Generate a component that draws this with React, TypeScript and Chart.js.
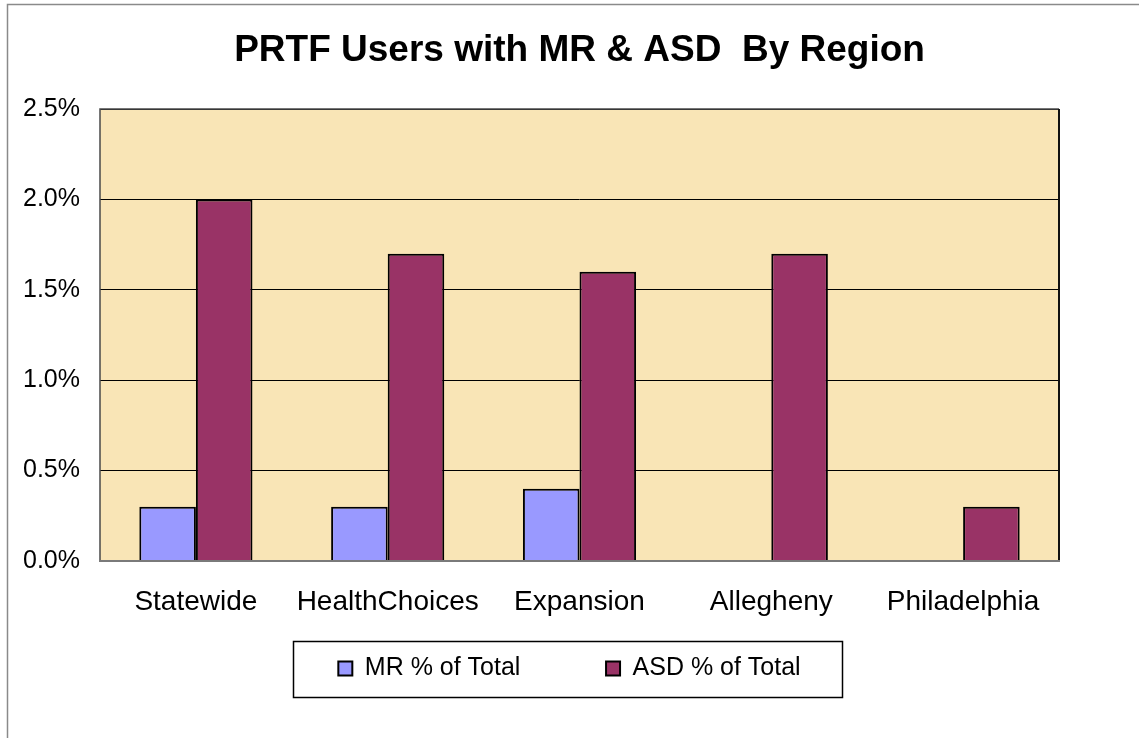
import React, { useEffect, useRef } from "react";
import { Chart, registerables } from "chart.js";

Chart.register(...registerables);

const categories = ["Statewide", "HealthChoices", "Expansion", "Allegheny", "Philadelphia"];
const mrValues = [0.3, 0.3, 0.4, 0, 0];
const asdValues = [2.0, 1.7, 1.6, 1.7, 0.3];
const seriesLabels = ["MR % of Total", "ASD % of Total"];
const titleText = "PRTF Users with MR & ASD  By Region";
const yMin = 0;
const yMax = 2.5;
const yStep = 0.5;

const FONT = "'Liberation Sans', Arial, sans-serif";

const decorPlugin = {
  id: "decor",
  beforeDraw(chart: any) {
    const { ctx, chartArea, width, height } = chart;
    ctx.save();
    ctx.strokeStyle = "#8a8a8a";
    ctx.lineWidth = 1.5;
    ctx.beginPath();
    ctx.moveTo(7.5, height + 5);
    ctx.lineTo(7.5, 4.5);
    ctx.lineTo(width + 5, 4.5);
    ctx.stroke();
    ctx.fillStyle = "#F9E5B6";
    ctx.fillRect(chartArea.left, chartArea.top, chartArea.right - chartArea.left, chartArea.bottom - chartArea.top);
    ctx.restore();
  },
  afterDatasetsDraw(chart: any) {
    const { ctx, chartArea } = chart;
    const { left, right, top, bottom } = chartArea;
    ctx.save();
    ctx.lineWidth = 1.5;
    ctx.strokeStyle = "#4a4a4a";
    ctx.beginPath();
    ctx.moveTo(left, bottom);
    ctx.lineTo(left, top);
    ctx.lineTo(right, top);
    ctx.stroke();
    ctx.lineWidth = 2;
    ctx.strokeStyle = "#111";
    ctx.beginPath();
    ctx.moveTo(right, top);
    ctx.lineTo(right, bottom);
    ctx.stroke();
    ctx.strokeStyle = "#7a7a7a";
    ctx.beginPath();
    ctx.moveTo(left - 1, bottom);
    ctx.lineTo(right + 1, bottom);
    ctx.stroke();
    ctx.restore();
  },
  afterDraw(chart: any) {
    const legend = chart.legend;
    if (!legend || !legend.legendHitBoxes || !legend.legendHitBoxes.length) return;
    const hb = legend.legendHitBoxes;
    const first = hb[0];
    const last = hb[hb.length - 1];
    const x0 = first.left - 45;
    const x1 = last.left + last.width + 42;
    const y0 = first.top - 15;
    const y1 = first.top + first.height + 16;
    const { ctx } = chart;
    ctx.save();
    ctx.strokeStyle = "#000";
    ctx.lineWidth = 1.5;
    ctx.strokeRect(Math.round(x0) + 0.5, Math.round(y0) + 0.5, Math.round(x1 - x0), Math.round(y1 - y0));
    ctx.restore();
  },
};

export default function App() {
  const canvasRef = useRef<HTMLCanvasElement | null>(null);

  useEffect(() => {
    if (!canvasRef.current) return;
    const chart = new Chart(canvasRef.current, {
      type: "bar",
      data: {
        labels: categories,
        datasets: [
          {
            label: seriesLabels[0],
            data: mrValues,
            backgroundColor: "#9999FF",
            borderColor: "#000000",
            borderWidth: 2,
            categoryPercentage: 0.59,
            barPercentage: 1,
          },
          {
            label: seriesLabels[1],
            data: asdValues,
            backgroundColor: "#993366",
            borderColor: "#000000",
            borderWidth: 2,
            categoryPercentage: 0.59,
            barPercentage: 1,
          },
        ],
      },
      options: {
        responsive: false,
        animation: false,
        layout: { padding: { left: 0, right: 0, top: 0, bottom: 47 } },
        plugins: {
          title: {
            display: true,
            fullSize: false,
            text: titleText,
            color: "#000",
            font: { family: FONT, size: 37, weight: "bold" },
            padding: { top: 29, bottom: 35.6 },
          },
          legend: {
            display: true,
            position: "bottom",
            labels: {
              color: "#000",
              font: { family: FONT, size: 25 },
              boxWidth: 14,
              boxHeight: 14,
              padding: 37,
              generateLabels(chart: any) {
                const items = Chart.defaults.plugins.legend.labels.generateLabels(chart);
                // widen spacing after first item (trailing blank space only)
                if (items.length > 1) items[0].text = items[0].text + "       ";
                return items;
              },
            },
          },
          tooltip: { enabled: false },
        },
        scales: {
          x: {
            grid: { display: false, drawTicks: false },
            border: { display: false },
            ticks: {
              color: "#000",
              font: { family: FONT, size: 28 },
              padding: 24,
              maxRotation: 0,
              minRotation: 0,
              autoSkip: false,
            },
            afterFit(scale: any) {
              scale.height = 58;
            },
          },
          y: {
            position: "left",
            min: yMin,
            max: yMax,
            grid: { color: "#000", lineWidth: 1, drawTicks: false },
            border: { display: false },
            ticks: {
              stepSize: yStep,
              color: "#000",
              font: { family: FONT, size: 25 },
              padding: 20,
              callback: (v: any) => Number(v).toFixed(1) + "%",
            },
            afterFit(scale: any) {
              scale.width = 100;
            },
          },
          yRight: {
            position: "right",
            display: true,
            grid: { display: false, drawTicks: false },
            border: { display: false },
            ticks: { display: false },
            afterFit(scale: any) {
              scale.width = 80;
            },
          },
        },
      },
      plugins: [decorPlugin],
    } as any);
    return () => chart.destroy();
  }, []);

  return (
    <div style={{ position: "fixed", left: 0, top: 0, width: 1139, height: 738, background: "#fff" }}>
      <canvas ref={canvasRef} width={1139} height={738} style={{ display: "block", width: 1139, height: 738 }} />
    </div>
  );
}
